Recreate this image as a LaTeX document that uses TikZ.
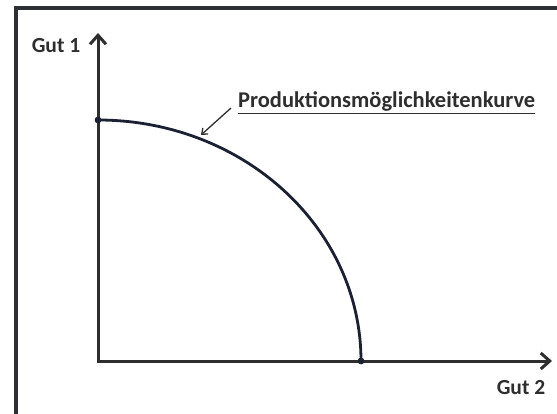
\documentclass[tikz,border=0pt]{standalone}
\usepackage{fontspec}
\setmainfont{Carlito}
\usepackage{tikz}
\usetikzlibrary{
  arrows.meta,
  calc
}
\definecolor{AxisGray}{HTML}{2E2E2E}
\definecolor{CurveNavy}{HTML}{1C2033}
\definecolor{FrameGray}{HTML}{2F3035}
\tikzset{
  axis/.style={
    -{Straight Barb[length=9pt,width=16pt]},
    line width=3pt,
    draw=AxisGray
  },
  pmkcurve/.style={
    line width=2.8pt,
    draw=CurveNavy
  },
  enddot/.style={
    circle,
    fill=CurveNavy,
    inner sep=0pt,
    minimum size=6.5pt
  },
  axislabel/.style={
    font=\fontsize{21.5}{25}\selectfont\bfseries,
    text=AxisGray,
    inner sep=0pt
  },
  curvelabel/.style={
    font=\fontsize{22.5}{27}\selectfont\bfseries,
    text=AxisGray,
    inner sep=0pt
  },
  pointer/.style={
    -{Straight Barb[length=5pt,width=8pt]},
    line width=1.3pt,
    draw=AxisGray
  },
  frameline/.style={
    line width=3.2pt,
    draw=FrameGray
  }
}

\begin{document}
\begin{tikzpicture}[x=1pt, y=-1pt]

  \useasboundingbox (0,0) rectangle (557,414);

  % Rahmen
  \draw[frameline] (16,414) -- (16,8) -- (557,8);

  % Achsen
  \coordinate (origin) at (98,361);
  \coordinate (ytip) at (98,33);
  \coordinate (xtip) at (552,361);

  \draw[axis] ([yshift=-1.5pt]origin) -- (ytip);
  \draw[axis] ([xshift=-1.5pt]origin) -- (xtip);

  \node[
    axislabel
  ] (gut1) at (56,46) {
    Gut 1
  };

  \node[
    axislabel
  ] (gut2) at (521,388) {
    Gut 2
  };

  % Kurve
  \node[enddot] (ymax) at (98,120) {};
  \node[enddot] (xmax) at (361,361) {};

  \draw[pmkcurve]
  (ymax.center) arc[start angle=90, end angle=0, x radius=263pt, y radius=241pt];

  \node[enddot] at (ymax) {};
  \node[enddot] at (xmax) {};

  % Beschriftung
  \node[
    curvelabel,
    anchor=base west
  ] (pmk) at (238,108) {
    \underline{Produktionsmöglichkeitenkurve}
  };

  \coordinate (tip) at (201,135);

  \draw[pointer]
  ([xshift=-7pt]pmk.base west) --
  (tip);

\end{tikzpicture}
\end{document}
